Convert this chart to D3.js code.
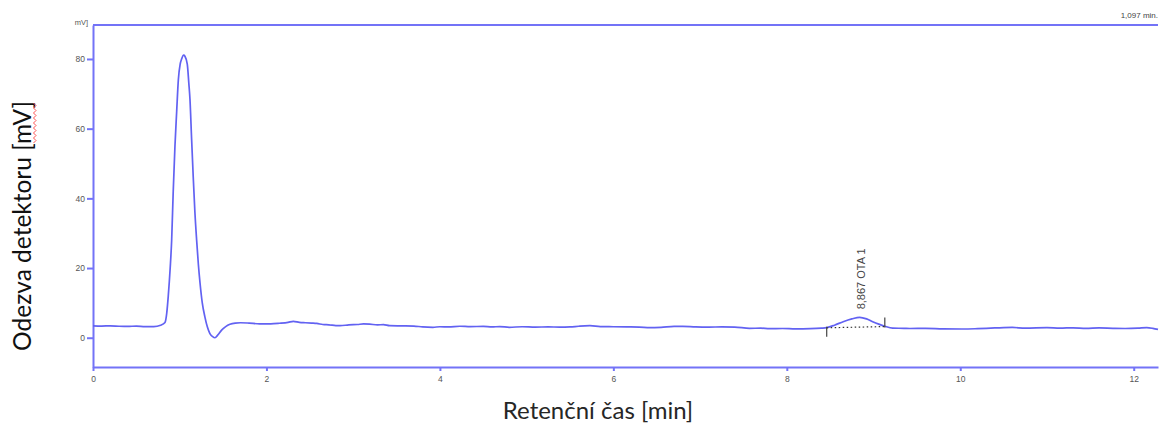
<!DOCTYPE html>
<html><head><meta charset="utf-8">
<script src="https://cdn.jsdelivr.net/npm/d3@7"></script>
<style>html,body{margin:0;padding:0;background:#fff;}svg{display:block;}</style>
</head><body>
<svg id="c" width="1161" height="432"></svg>
<script>
// ---- data ----
const times = [0.00,0.10,0.20,0.30,0.40,0.50,0.60,0.70,0.78,0.83,0.85,0.868,0.89,0.907,0.925,0.945,0.965,0.984,1.005,1.022,1.045,1.06,1.087,1.105,1.118,1.137,1.156,1.175,1.195,1.215,1.233,1.26,1.29,1.32,1.348,1.38,1.406,1.44,1.483,1.53,1.579,1.64,1.70,1.80,1.92,2.05,2.15,2.25,2.31,2.38,2.45,2.52,2.58,2.65,2.72,2.80,2.85,2.95,3.05,3.12,3.19,3.28,3.35,3.42,3.55,3.70,3.80,3.92,4.00,4.10,4.23,4.35,4.50,4.60,4.69,4.80,4.95,5.10,5.25,5.38,5.50,5.60,5.73,5.85,6.00,6.15,6.30,6.42,6.55,6.70,6.80,6.95,7.10,7.25,7.40,7.57,7.70,7.80,7.95,8.10,8.27,8.40,8.46,8.55,8.65,8.75,8.84,8.92,8.99,9.06,9.13,9.22,9.35,9.42,9.60,9.80,10.03,10.20,10.40,10.60,10.75,11.00,11.15,11.30,11.45,11.60,11.76,11.90,12.05,12.15,12.22,12.28];
const signal = [3.4,3.35,3.4,3.3,3.25,3.35,3.2,3.2,3.6,4.4,7,12,20,28,42,55,65,74,78.5,80,81.1,80.8,78.5,73,68.5,57,46,36,28,21,16,10,6,3,1.2,0.3,0.0,0.8,2.2,3.2,3.85,4.2,4.3,4.2,4.0,4.0,4.15,4.4,4.7,4.4,4.3,4.2,4.1,3.8,3.7,3.5,3.45,3.7,3.8,3.95,3.9,3.7,3.75,3.45,3.4,3.35,3.1,3.0,3.15,3.1,3.3,3.2,3.25,3.1,3.2,3.0,3.15,3.05,3.1,3.05,3.1,3.3,3.45,3.2,3.15,3.1,3.05,2.9,3.0,3.25,3.27,3.1,3.05,3.1,3.05,2.7,2.75,2.6,2.65,2.55,2.6,2.75,2.9,3.6,4.6,5.4,5.85,5.4,4.6,3.9,3.3,2.75,2.7,2.65,2.7,2.55,2.5,2.6,2.8,2.95,2.75,2.9,2.75,2.85,2.7,2.8,2.7,2.65,2.75,2.9,2.7,2.4];
const xTicks = [0,2,4,6,8,10,12];
const yTicks = [0,20,40,60,80];
const peakLabel = "8,867 OTA 1";
const peakTime = [8.867];
const peakApex = [5.85];
const peakStart = [8.46, 2.85];
const peakEnd = [9.13, 3.2];
const xTitle = "Retenční čas [min]";
const yTitle = "Odezva detektoru [mV]";
const unitLabel = "mV]";
const cursorLabel = "1,097 min.";
const xDomain = [0, 12.28];
const yDomain = [-8.4, 89.75];

// ---- drawing ----
const svg = d3.select("#c");
const axisColor = "#7373f7";
const traceColor = "#6262f2";
const L = 93, R = 1158, T = 25, B = 367;
const x = d3.scaleLinear().domain(xDomain).range([L, R]);
const y = d3.scaleLinear().domain(yDomain).range([B, T]);
const tickFont = "'Liberation Sans', Arial, sans-serif";

// frame: top line
svg.append("line").attr("x1", L).attr("x2", R).attr("y1", T).attr("y2", T)
  .attr("stroke", axisColor).attr("stroke-width", 2);

// axes
const xAxis = d3.axisBottom(x).tickValues(xTicks).tickSize(4).tickSizeOuter(0).tickFormat(d3.format("d"));
const gx = svg.append("g").attr("transform", `translate(0,${B})`).call(xAxis);
gx.select(".domain").attr("stroke", axisColor).attr("stroke-width", 2);
gx.selectAll(".tick line").attr("stroke", axisColor).attr("stroke-width", 2);
gx.selectAll(".tick text").attr("fill", "#555").attr("font-size", 8.5).attr("font-family", tickFont).attr("dy", "0.9em");

const yAxis = d3.axisLeft(y).tickValues(yTicks).tickSize(6).tickSizeOuter(0).tickFormat(d3.format("d"));
const gy = svg.append("g").attr("transform", `translate(${L},0)`).call(yAxis);
gy.select(".domain").attr("stroke", axisColor).attr("stroke-width", 2);
gy.selectAll(".tick line").attr("stroke", axisColor).attr("stroke-width", 2);
gy.selectAll(".tick text").attr("fill", "#555").attr("font-size", 8.5).attr("font-family", tickFont).attr("x", -8);

// unit label at top of y axis
svg.append("text").attr("x", L - 5).attr("y", T).attr("text-anchor", "end")
  .attr("font-size", 7.5).attr("font-family", tickFont).attr("fill", "#555").text(unitLabel);
// cursor label
svg.append("text").attr("x", R).attr("y", 18).attr("text-anchor", "end")
  .attr("font-size", 8).attr("font-family", tickFont).attr("fill", "#444").text(cursorLabel);

// trace
const pts = times.map((t, i) => [t, signal[i]]);
const line = d3.line().x(d => x(d[0])).y(d => y(d[1])).curve(d3.curveMonotoneX);
svg.append("path").datum(pts).attr("d", line).attr("fill", "none")
  .attr("stroke", traceColor).attr("stroke-width", 1.7).attr("stroke-linejoin", "round");

// peak integration baseline (dotted)
svg.append("line").attr("x1", x(peakStart[0])).attr("y1", y(peakStart[1]))
  .attr("x2", x(peakEnd[0])).attr("y2", y(peakEnd[1]))
  .attr("stroke", "#333").attr("stroke-width", 1.2).attr("stroke-dasharray", "1.5,2.5");
// start/end markers
svg.append("line").attr("x1", x(peakStart[0])).attr("x2", x(peakStart[0]))
  .attr("y1", y(peakStart[1]) - 1).attr("y2", y(peakStart[1]) + 9)
  .attr("stroke", "#444").attr("stroke-width", 1.2);
svg.append("line").attr("x1", x(peakEnd[0])).attr("x2", x(peakEnd[0]))
  .attr("y1", y(peakEnd[1]) - 9).attr("y2", y(peakEnd[1]) + 1)
  .attr("stroke", "#444").attr("stroke-width", 1.2);
// peak label
const px = x(peakTime[0]) - 1, py = y(peakApex[0]) - 8;
svg.append("text").attr("transform", `translate(${px + 4},${py}) rotate(-90)`)
  .attr("font-size", 11).attr("font-family", tickFont).attr("fill", "#444").text(peakLabel);

// axis titles
const titleFont = "Lato, 'Open Sans', sans-serif";
svg.append("text").attr("x", 598).attr("y", 419).attr("text-anchor", "middle")
  .attr("font-size", 24).attr("font-family", titleFont).attr("fill", "#262626").text(xTitle);
svg.append("text").attr("transform", "translate(31,226) rotate(-90)").attr("text-anchor", "middle")
  .attr("font-size", 24.5).attr("font-family", titleFont).attr("fill", "#111").text(yTitle);

// spell-check squiggle under "mV" in y title
const sq = [];
for (let i = 0; i <= 16; i++) sq.push([i % 2 ? 36 : 33.5, 103 + i * 2.5]);
svg.append("path").attr("d", d3.line()(sq)).attr("fill", "none").attr("stroke", "#ff4040").attr("stroke-width", 0.9);
</script>
</body></html>
